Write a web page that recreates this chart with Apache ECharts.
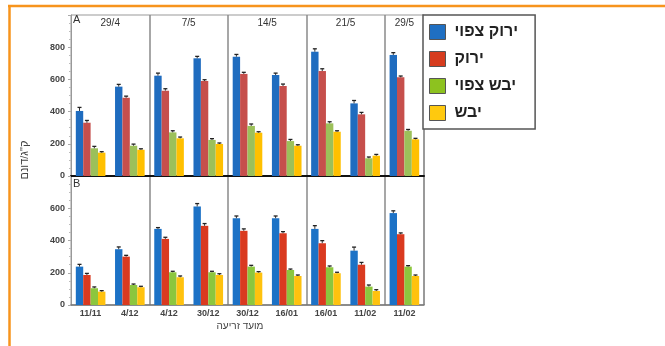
<!DOCTYPE html>
<html>
<head>
<meta charset="utf-8">
<script src="https://cdn.jsdelivr.net/npm/echarts@6/dist/echarts.min.js"></script>
<style>
  html, body { margin: 0; padding: 0; background: #fff; }
  #chart { width: 665px; height: 346px; }
</style>
</head>
<body>
<div id="chart"></div>
<script>
const categories = ['11/11', '4/12', '4/12', '30/12', '30/12', '16/01', '16/01', '11/02', '11/02'];
const headerLabels = ['29/4', '7/5', '14/5', '21/5', '29/5'];
const headerSpans = [2, 2, 2, 2, 1];
const seriesNames = ['ירוק צפוי', 'ירוק', 'יבש צפוי', 'יבש'];

// panel A
const aBlue = [404, 555, 623, 731, 741, 627, 772, 451, 752];
const aRed = [331, 486, 530, 590, 634, 559, 652, 383, 613];
const aGreen = [172, 188, 271, 224, 311, 217, 327, 110, 281];
const aYellow = [145, 163, 234, 199, 269, 188, 275, 126, 228];
const aBlueErr = [22, 14, 16, 12, 14, 12, 18, 18, 14];
const aRedErr = [14, 10, 12, 8, 10, 12, 14, 12, 8];
const aGreenErr = [12, 10, 10, 8, 12, 10, 10, 8, 8];
const aYellowErr = [6, 6, 8, 6, 6, 6, 6, 8, 6];

// panel B
const bBlue = [238, 346, 472, 611, 538, 538, 472, 337, 570];
const bRed = [186, 300, 410, 491, 460, 445, 383, 250, 439];
const bGreen = [104, 124, 203, 203, 238, 217, 234, 114, 238];
const bYellow = [83, 110, 172, 186, 201, 180, 197, 87, 180];
const bBlueErr = [14, 14, 8, 18, 14, 14, 20, 22, 14];
const bRedErr = [10, 8, 10, 14, 12, 10, 16, 14, 8];
const bGreenErr = [8, 6, 6, 6, 8, 6, 8, 10, 6];
const bYellowErr = [6, 6, 8, 8, 6, 6, 6, 8, 6];

const yTicksA = [0, 200, 400, 600, 800];
const yTicksB = [0, 200, 400, 600];

const COLORS_A = ['#1f6cbf', '#c64f4c', '#9cc05a', '#ffc000'];
const COLORS_B = ['#1c72c6', '#da3a20', '#8cc63e', '#ffc20e'];
const LEGEND_COLORS = ['#1f6fc2', '#d63c1e', '#8dc21f', '#ffc90e'];
const BAR_W = 7.4;

// boundaries between header groups -> vertical separators
const boundaries = [];
headerSpans.reduce((acc, n, i) => {
  if (i < headerSpans.length - 1) boundaries.push(acc + n);
  return acc + n;
}, 0);

const headerAreas = [];
headerSpans.reduce((acc, n, i) => {
  headerAreas.push([{ xAxis: acc, name: headerLabels[i] }, { xAxis: acc + n - 1 }]);
  return acc + n;
}, 0);

const chart = echarts.init(document.getElementById('chart'));

function errData(lists, vals) {
  const out = [];
  vals.forEach((v, s) => v.forEach((val, i) => out.push([i, val, lists[s][i], s])));
  return out;
}

function renderErr(params, api) {
  const i = api.value(0), v = api.value(1), e = api.value(2), s = api.value(3);
  const base = api.coord([i, v]);
  const top = api.coord([i, v + e]);
  const cx = base[0] + (s - 1.5) * BAR_W;
  return {
    type: 'group',
    children: [
      { type: 'line', shape: { x1: cx, y1: base[1], x2: cx, y2: top[1] }, style: { stroke: '#333', lineWidth: 1 } },
      { type: 'line', shape: { x1: cx - 2, y1: top[1], x2: cx + 2, y2: top[1] }, style: { stroke: '#222', lineWidth: 1.3 } },
    ],
  };
}

const axisLabelStyle = { color: '#444', fontSize: 9, fontWeight: 'bold', fontFamily: 'Liberation Sans, Arial, sans-serif' };

function xAxis(gridIndex, showLabels, lineColor, lineWidth) {
  return {
    type: 'category',
    gridIndex,
    data: categories,
    axisLine: { show: true, lineStyle: { color: lineColor, width: lineWidth } },
    axisTick: { show: false },
    axisLabel: { show: showLabels, ...axisLabelStyle, margin: 4, interval: 0 },
    splitLine: {
      show: true,
      interval: (idx) => boundaries.includes(idx),
      lineStyle: { color: '#8a8a8a', width: 1.5 },
    },
  };
}

function yAxis(gridIndex, max, ticks) {
  return {
    type: 'value',
    gridIndex,
    min: 0,
    max,
    interval: 200,
    axisLine: { show: true, lineStyle: { color: '#999', width: 1 } },
    axisTick: { show: true, length: 3, lineStyle: { color: '#aaa' } },
    minorTick: { show: true, splitNumber: 4, length: 2, lineStyle: { color: '#bbb' } },
    splitLine: { show: false },
    axisLabel: { ...axisLabelStyle, fontSize: 9, margin: 6, formatter: (v) => (ticks.includes(v) ? String(v) : '') },
  };
}

const barsA = [aBlue, aRed, aGreen, aYellow];
const barsB = [bBlue, bRed, bGreen, bYellow];
const errsA = [aBlueErr, aRedErr, aGreenErr, aYellowErr];
const errsB = [bBlueErr, bRedErr, bGreenErr, bYellowErr];

const series = [];
barsA.forEach((d, s) => series.push({
  name: seriesNames[s],
  type: 'bar',
  xAxisIndex: 0,
  yAxisIndex: 0,
  data: d,
  barWidth: BAR_W,
  barGap: '0%',
  itemStyle: { color: COLORS_A[s] },
  markArea: s === 0 ? {
    silent: true,
    itemStyle: { color: 'rgba(0,0,0,0)' },
    label: { show: true, position: 'insideTop', distance: 3, color: '#333', fontSize: 10, fontFamily: 'Liberation Sans, Arial, sans-serif' },
    data: headerAreas,
  } : undefined,
}));
barsB.forEach((d, s) => series.push({
  name: seriesNames[s],
  type: 'bar',
  xAxisIndex: 1,
  yAxisIndex: 1,
  data: d,
  barWidth: BAR_W,
  barGap: '0%',
  itemStyle: { color: COLORS_B[s] },
}));
series.push({ type: 'custom', xAxisIndex: 0, yAxisIndex: 0, renderItem: renderErr, data: errData(errsA, barsA), z: 5 });
series.push({ type: 'custom', xAxisIndex: 1, yAxisIndex: 1, renderItem: renderErr, data: errData(errsB, barsB), z: 5 });

chart.setOption({
  backgroundColor: '#fff',
  animation: false,
  grid: [
    { left: 71, top: 15, width: 353, height: 161, show: true, borderColor: '#999', borderWidth: 1 },
    { left: 71, top: 176, width: 353, height: 129, show: true, borderColor: '#999', borderWidth: 1 },
  ],
  xAxis: [xAxis(0, false, '#111', 2), xAxis(1, true, '#777', 1.5)],
  yAxis: [yAxis(0, 1000, yTicksA), yAxis(1, 800, yTicksB)],
  legend: {
    orient: 'vertical',
    left: 423,
    top: 15,
    padding: [9, 17, 8, 6],
    itemGap: 11,
    itemWidth: 16,
    itemHeight: 15,
    icon: 'rect',
    backgroundColor: '#fff',
    borderColor: '#555',
    borderWidth: 1.5,
    selectedMode: false,
    textStyle: { color: '#222', fontSize: 16, fontWeight: 'bold', padding: [0, 0, 0, 4], fontFamily: 'Liberation Sans, DejaVu Sans, sans-serif' },
    data: seriesNames.map((n, i) => ({
      name: n,
      itemStyle: { color: LEGEND_COLORS[i], borderColor: '#555', borderWidth: 1 },
    })),
  },
  graphic: [
    { type: 'line', shape: { x1: 8, y1: 6, x2: 665, y2: 6 }, style: { stroke: '#f7941d', lineWidth: 2.5 } },
    { type: 'line', shape: { x1: 9.5, y1: 5, x2: 9.5, y2: 346 }, style: { stroke: '#f7941d', lineWidth: 2.5 } },
    { type: 'text', left: 73, top: 14, style: { text: 'A', fontSize: 11, fill: '#333', fontFamily: 'Liberation Sans, Arial, sans-serif' } },
    { type: 'text', left: 73, top: 178, style: { text: 'B', fontSize: 11, fill: '#333', fontFamily: 'Liberation Sans, Arial, sans-serif' } },
    {
      type: 'text', x: 25, y: 160, rotation: Math.PI / 2,
      style: { text: 'ק"ג/דונם', fontSize: 11, fill: '#444', align: 'center', verticalAlign: 'middle', fontFamily: 'Liberation Sans, DejaVu Sans, sans-serif' },
    },
    {
      type: 'text', x: 240, y: 326,
      style: { text: 'מועד זריעה', fontSize: 10, fill: '#444', align: 'center', verticalAlign: 'middle', fontFamily: 'Liberation Sans, DejaVu Sans, sans-serif' },
    },
  ],
  series,
});
</script>
</body>
</html>
